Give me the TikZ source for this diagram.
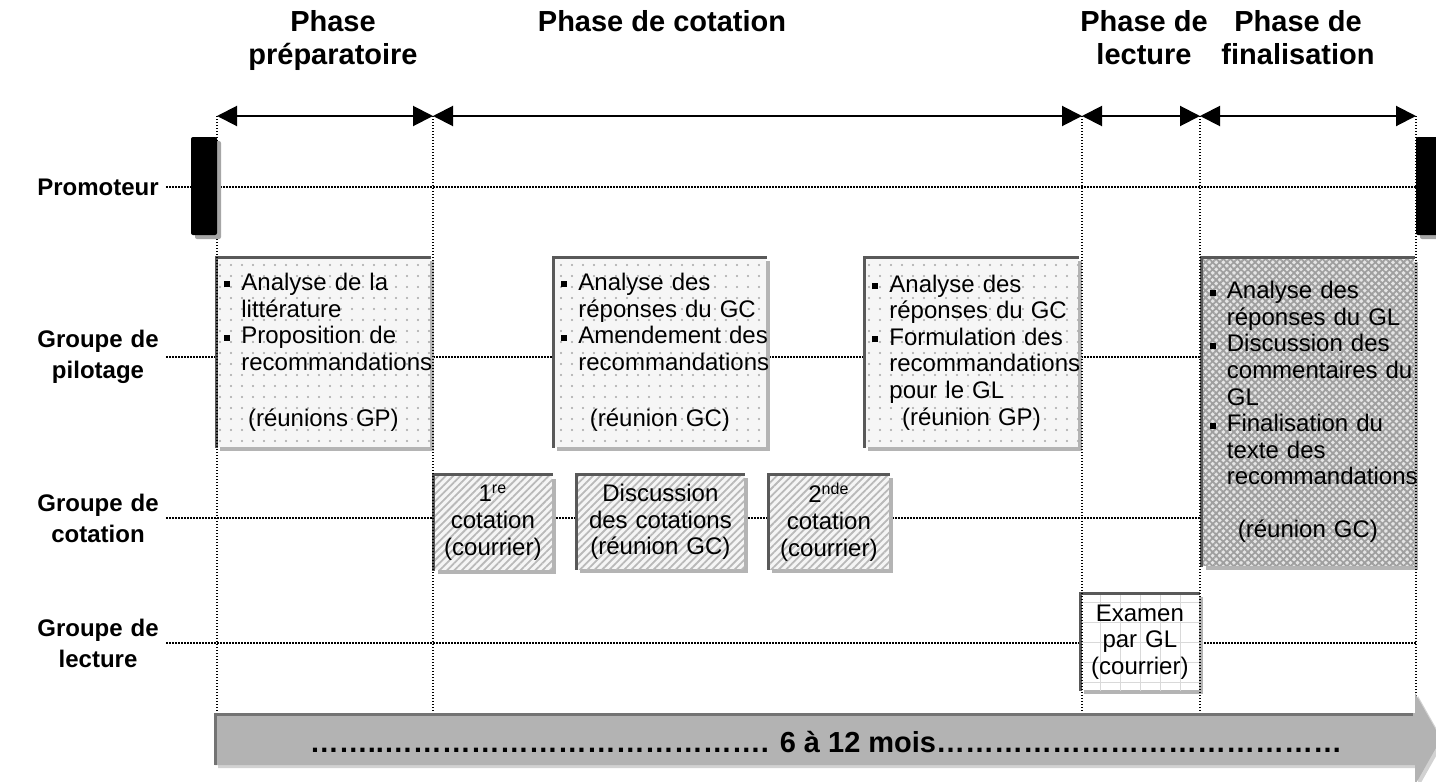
\documentclass[tikz,border=0pt]{standalone}
\usepackage{fontspec}
\setmainfont{Liberation Sans}
\usetikzlibrary{arrows.meta,shadows,patterns.meta}

\definecolor{bord}{HTML}{595959}
\definecolor{ombre}{HTML}{B4B4B4}
\definecolor{barre}{HTML}{B3B3B3}

\hyphenpenalty=10000
\exhyphenpenalty=10000
\hbadness=10000
\hfuzz=20pt

\newcommand{\puce}{\makebox[8.5pt][l]{\rule[1.5pt]{3pt}{3pt}}}
\newcommand{\suite}{\hspace*{8.5pt}}
\newcommand{\reunion}[1]{\makebox[\linewidth]{#1}}

\begin{document}
\begin{tikzpicture}[x=0.5pt, y=-0.5pt,
	phase/.style={line width=1pt, {Triangle[length=10pt,width=10pt]}-{Triangle[length=10pt,width=10pt]}},
	guide/.style={line width=0.6pt, dash pattern=on 0.6pt off 0.9pt},
	titre/.style={font=\fontsize{14.5}{16.5}\selectfont\bfseries, align=center, inner sep=0pt, anchor=north},
	groupe/.style={font=\fontsize{12}{15.5}\selectfont\bfseries, align=center, text width=62pt, inner sep=3pt},
	boite/.style={anchor=north west, inner sep=4pt, font=\fontsize{12}{13.3}\selectfont, drop shadow={shadow xshift=2pt, shadow yshift=-2pt, fill=ombre, opacity=1}},
	pilote/.style={boite, align=left, preaction={fill=gray!7}, pattern={Dots[distance=5.5pt,radius=0.55pt]}, pattern color=gray!70},
	cote/.style={boite, align=center, preaction={fill=gray!8}, pattern={Lines[angle=45,distance=2.6pt,line width=0.9pt]}, pattern color=gray!55},
	finale/.style={boite, align=left, preaction={fill=gray!20}, pattern={Hatch[angle=45,distance=2.5pt,line width=0.9pt]}, pattern color=gray!75},
	lecture/.style={boite, align=center, preaction={fill=white}, pattern={Hatch[angle=0,distance=10pt,line width=0.4pt]}, pattern color=gray!30},
	arete/.style={line width=1.5pt, bord},
	jalon/.style={fill=black, rounded corners=1pt, minimum width=13pt, minimum height=49pt, inner sep=0pt, drop shadow={shadow xshift=2pt, shadow yshift=-2pt, fill=gray!70, opacity=1}}]
	\useasboundingbox (0,0) rectangle (1436,782);
	
	\coordinate (t0) at (217,116);
	\coordinate (t1) at (433,116);
	\coordinate (t2) at (1082,116);
	\coordinate (t3) at (1200,116);
	\coordinate (t4) at (1416,116);
	\coordinate (fond) at (0,713);
	
	\node[titre] (tprep) at (333,10) {Phase\\préparatoire};
	\node[titre] (tcot) at (662,10) {Phase de cotation};
	\node[titre] (tlec) at (1144,10) {Phase de\\lecture};
	\node[titre] (tfin) at (1298,10) {Phase de\\finalisation};
	
	\node[groupe] (pro) at (98,187) {Promoteur};
	\node[groupe] (pil) at (98,357) {Groupe de\\pilotage};
	\node[groupe] (cot) at (98,518) {Groupe de\\cotation};
	\node[groupe] (lec) at (98,643) {Groupe de\\lecture};
	
	\foreach \g in {pro,pil,cot,lec}
	\draw[guide] (\g.east) -- (\g.east -| t4);
	
	\node[pilote, text width=99pt, minimum height=95pt] (prep) at (216,257) {\puce Analyse~de~la\\ \suite littérature\\ \puce Proposition~de\\ \suite recommandations\\[15pt] \reunion{(réunions GP)}};
	\node[pilote, text width=98.5pt, minimum height=95pt] (anagc) at (553,257) {\puce Analyse~des\\ \suite réponses~du~GC\\ \puce Amendement~des\\ \suite recommandations\\[15pt] \reunion{(réunion GC)}};
	\node[pilote, text width=99pt, minimum height=95pt] (anagp) at (864,257) {\puce Analyse~des\\ \suite réponses~du~GC\\ \puce Formulation~des\\ \suite recommandations\\ \suite pour~le~GL\\ \reunion{(réunion GP)}};
	\node[finale, text width=98pt, minimum height=154pt] (fina) at (1201,257) {\puce Analyse~des\\ \suite réponses~du~GL\\ \puce Discussion~des\\ \suite commentaires~du\\ \suite GL\\ \puce Finalisation~du\\ \suite texte~des\\ \suite recommandations\\[13pt] \reunion{(réunion GC)}};
	
	\node[cote, text width=51pt, minimum height=47.5pt] (cot1) at (433,474) {1\textsuperscript{re}\\cotation\\(courrier)};
	\node[cote, text width=76pt, minimum height=47.5pt] (discu) at (576,474) {Discussion\\des~cotations\\(réunion~GC)};
	\node[cote, text width=52.5pt, minimum height=47.5pt] (cot2) at (768,474) {2\textsuperscript{nde}\\cotation\\(courrier)};
	
	\node[lecture, text width=51.5pt, minimum height=48.5pt] (examen) at (1080,593) {Examen\\par~GL\\(courrier)};
	
	\foreach \b in {prep,anagc,anagp,fina,cot1,discu,cot2,examen}
	\draw[arete] (\b.south west) |- (\b.north east);
	
	\foreach \t in {t0,t1,t2,t3,t4}
	\draw[guide] (\t) -- (\t |- fond);
	
	\node[jalon] (debut) at (204,186) {};
	\node[jalon] (fin) at (1429,186) {};
	
	\foreach \a/\b in {t0/t1,t1/t2,t2/t3,t3/t4}
	\draw[phase] (\a) -- (\b);
	
	\fill[barre, drop shadow={shadow xshift=1.5pt, shadow yshift=-1.5pt, fill=gray!35, opacity=1}] (215,713) -- (1415,713) -- (1415,693) -- (1441,739) -- (1415,785) -- (1415,765) -- (215,765) -- cycle;
	\draw[arete, gray!110] (215,765) |- (1413,714);
	\node[font=\fontsize{14.5}{16}\selectfont\bfseries] (duree) at (826,742) {……..…………………………………. 6 à 12 mois……………………………………};
\end{tikzpicture}
\end{document}
